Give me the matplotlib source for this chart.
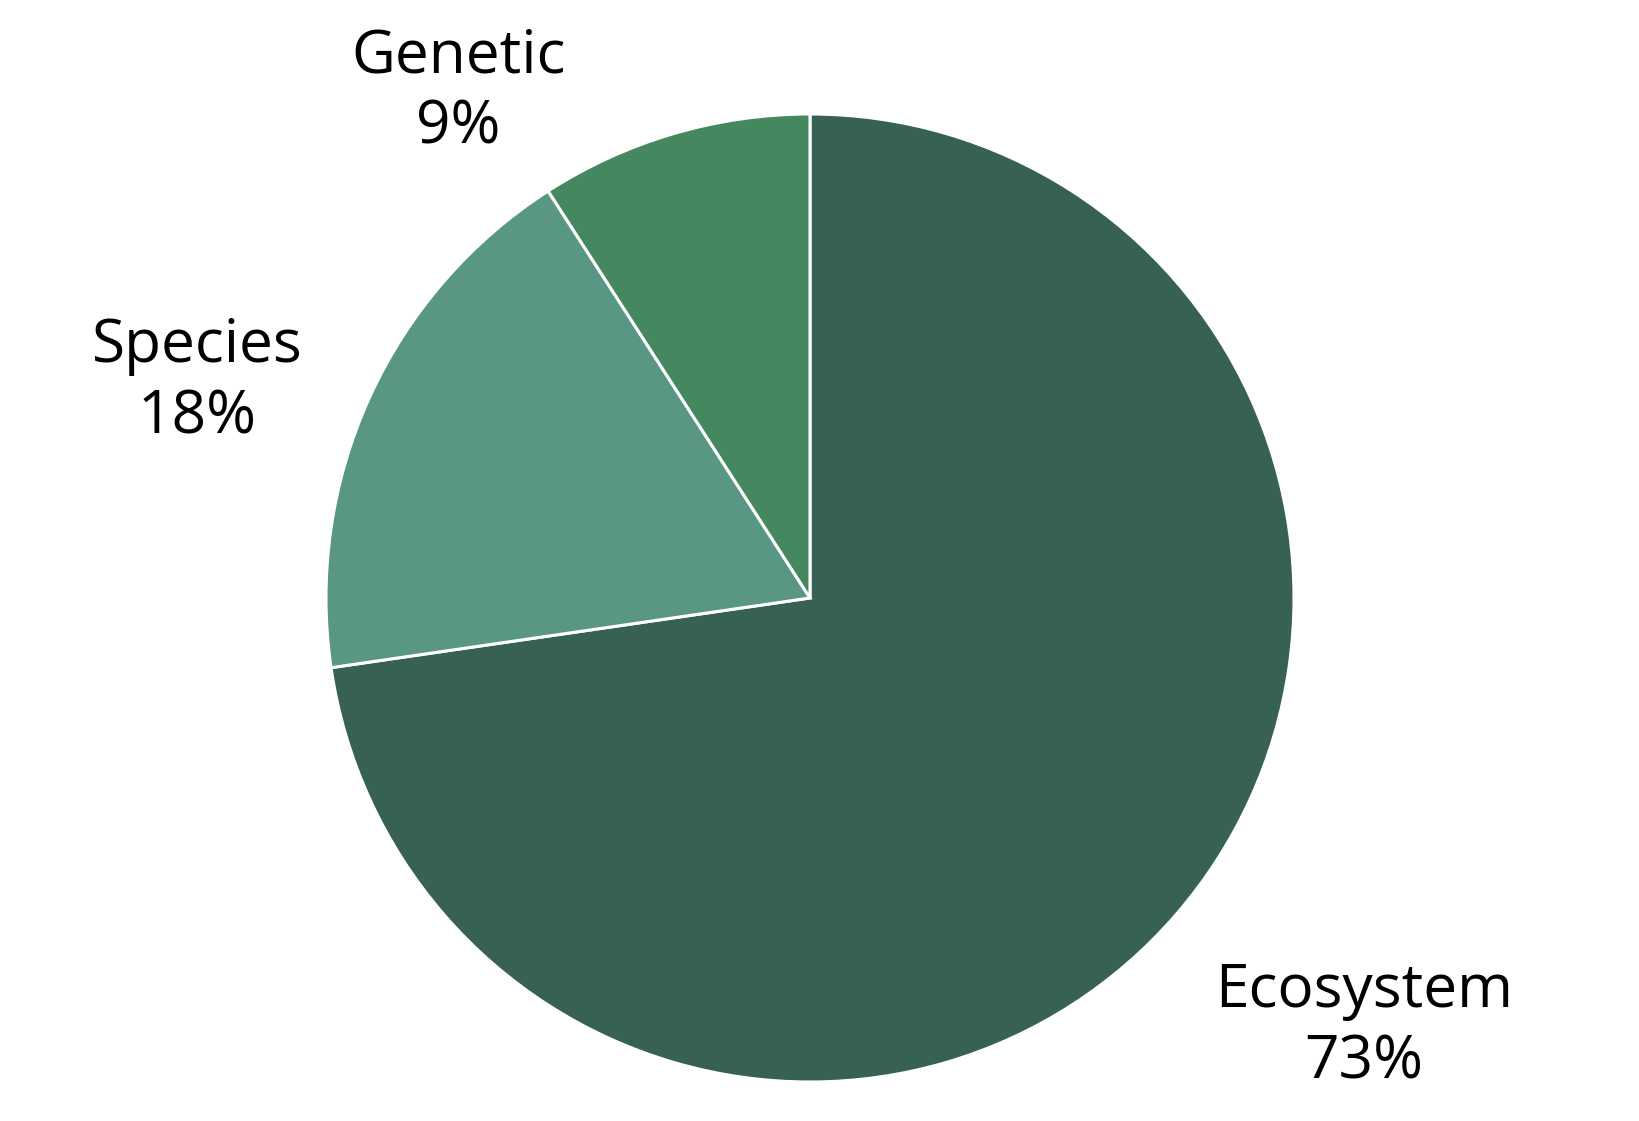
import matplotlib
matplotlib.use("Agg")
import matplotlib.pyplot as plt

categories = ["Ecosystem", "Species", "Genetic"]
shares = [72.7, 18.2, 9.1]
colors = ["#386156", "#599784", "#45875E"]

# label centres, in pie-radius units from the centre
label_pos = [(1.145, -0.885), (-1.266, 0.446), (-0.727, 1.045)]

plt.rcParams['font.family'] = ['Open Sans', 'DejaVu Sans']

fig = plt.figure(figsize=(16.39, 11.21), dpi=100)
W, H = 1639, 1121
cx, cy, r = 810, 598, 484
ax = fig.add_axes([(cx - r) / W, (H - cy - r) / H, 2 * r / W, 2 * r / H])

ax.pie(shares, colors=colors, startangle=90, counterclock=False,
       radius=1, wedgeprops=dict(edgecolor="white", linewidth=2.2))
ax.set_xlim(-1, 1)
ax.set_ylim(-1, 1)
ax.set_aspect("equal")
ax.axis("off")

for cat, val, (x, y) in zip(categories, shares, label_pos):
    ax.text(x, y, f"{cat}\n{round(val)}%", ha="center", va="center",
            multialignment="center", fontsize=43.5, linespacing=1.25,
            clip_on=False)

fig.savefig("out.png", dpi=100)
